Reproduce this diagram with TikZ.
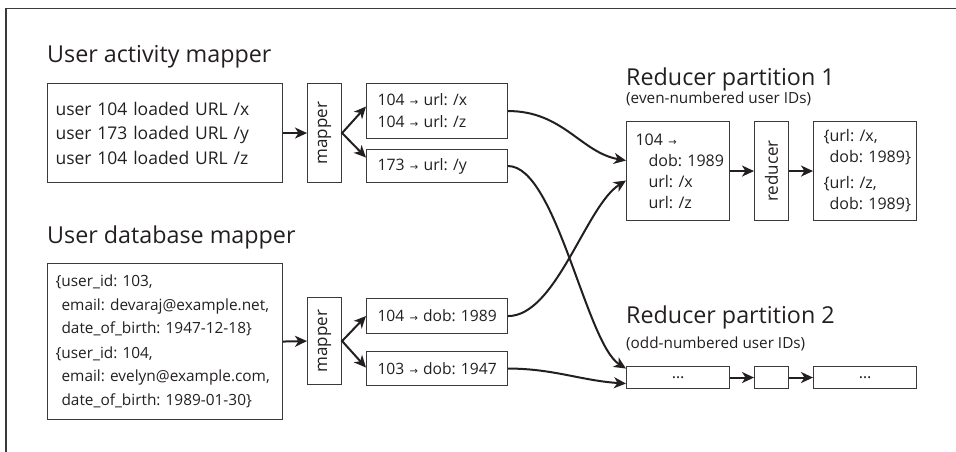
\documentclass[tikz,border=0pt]{standalone}
\usepackage{fontspec}
\setmainfont{Open Sans}
\newfontfamily\arrowfam{DejaVu Sans}
\usetikzlibrary{arrows.meta,calc}
\newcommand{\rarr}{{\arrowfam\fontsize{10}{10}\selectfont →}}
\newcommand{\oneline}[1]{\mbox{#1}}
\definecolor{ink}{HTML}{231F20}
\definecolor{boxc}{HTML}{3A3A3A}
\frenchspacing
\begin{document}
\begin{tikzpicture}[x=1pt,y=-1pt,
  title/.style={anchor=base west, inner sep=0pt, text=ink, font=\fontsize{23.3}{28}\selectfont},
  subtitle/.style={anchor=base west, inner sep=0pt, text=ink, font=\fontsize{15.3}{20}\selectfont},
  box/.style={draw=boxc, line width=1.1pt, anchor=north west, align=left, inner ysep=0pt, text=ink},
  plainbox/.style={draw=boxc, line width=1.1pt, anchor=north west, inner sep=0pt},
  vlabel/.style={rotate=90, inner sep=0pt, text=ink, font=\fontsize{17}{20}\selectfont},
  conn/.style={-{Stealth[length=12pt,width=11pt,inset=3.5pt]}, line width=2pt, draw=ink},
  fork/.style={{Stealth[length=12pt,width=11pt,inset=3.5pt]}-{Stealth[length=12pt,width=11pt,inset=3.5pt]}, line width=2pt, draw=ink},
  frameline/.style={draw=boxc, line width=1.5pt}
]
\useasboundingbox (0,0) rectangle (956,452);
\coordinate (fb) at (6,452);
\coordinate (fc) at (6,8.5);
\coordinate (fr) at (956,8.5);
\draw[frameline] (fb) -- (fc) -- (fr);

% titles
\node[title] (t1) at (47,63) {User activity mapper};
\node[title] (t2) at (47,243) {User database mapper};
\node[title] (t3) at (626,85) {Reducer partition 1};
\node[subtitle] (s3) at (626,103) {(even-numbered user IDs)};
\node[title] (t4) at (626,323) {Reducer partition 2};
\node[subtitle] (s4) at (626,348) {(odd-numbered user IDs)};

% user activity mapper
\node[box, inner xsep=8pt, text width=219pt, minimum height=99pt,
      font=\fontsize{17.5}{24.5}\selectfont] (in1) at (47,83)
  {\oneline{user 104 loaded URL /x}\\\oneline{user 173 loaded URL /y}\\\oneline{user 104 loaded URL /z}};
\node[plainbox, minimum width=34pt, minimum height=99pt] (m1) at (307,83) {};
\node[vlabel] (m1l) at (m1.center) {mapper};
\node[box, inner xsep=11pt, text width=119pt, minimum height=55pt,
      font=\fontsize{15.8}{22}\selectfont] (o1) at (366,83)
  {\oneline{104 \rarr{} url: /x}\\\oneline{104 \rarr{} url: /z}};
\node[box, inner xsep=11pt, text width=119pt, minimum height=33pt,
      font=\fontsize{15.8}{22}\selectfont] (o2) at (366,149)
  {\oneline{173 \rarr{} url: /y}};

% user database mapper
\node[box, inner xsep=8pt, text width=219pt, minimum height=156pt,
      font=\fontsize{15.4}{23.5}\selectfont] (db) at (47,263)
  {\oneline{\{user\_id: 103,}\\\oneline{\hspace*{6pt}email: devaraj@example.net,}\\\oneline{\hspace*{6pt}date\_of\_birth: 1947-12-18\}}\\[1pt]
   \oneline{\{user\_id: 104,}\\\oneline{\hspace*{6pt}email: evelyn@example.com,}\\\oneline{\hspace*{6pt}date\_of\_birth: 1989-01-30\}}};
\node[plainbox, minimum width=34pt, minimum height=87pt] (m2) at (307,297) {};
\node[vlabel] (m2l) at (m2.center) {mapper};
\node[box, inner xsep=11pt, text width=119pt, minimum height=35pt,
      font=\fontsize{15.6}{22}\selectfont] (o3) at (366,298)
  {\oneline{104 \rarr{} dob: 1989}};
\node[box, inner xsep=11pt, text width=119pt, minimum height=34pt,
      font=\fontsize{15.6}{22}\selectfont] (o4) at (366,351)
  {\oneline{103 \rarr{} dob: 1947}};

% reducer partition 1
\node[box, inner xsep=9pt, text width=85pt, minimum height=99pt,
      font=\fontsize{16}{21}\selectfont] (r1) at (626,121)
  {\oneline{104 \rarr}\\\oneline{\hspace*{13pt}dob: 1989}\\\oneline{\hspace*{13pt}url: /x}\\\oneline{\hspace*{13pt}url: /z}};
\node[plainbox, minimum width=34pt, minimum height=99pt] (red) at (754,121) {};
\node[vlabel] (redl) at (red.center) {reducer};
\node[box, inner xsep=10pt, text width=83pt, minimum height=99pt,
      font=\fontsize{16}{21}\selectfont] (ro) at (813,121)
  {\oneline{\{url: /x,}\\\oneline{\hspace*{6pt}dob: 1989\}}\\[5pt]\oneline{\{url: /z,}\\\oneline{\hspace*{6pt}dob: 1989\}}};

% reducer partition 2
\node[plainbox, minimum width=103pt, minimum height=22pt, font=\fontsize{16}{20}\selectfont, text=ink] (pa) at (626,366) {\ldots};
\node[plainbox, minimum width=34pt, minimum height=22pt] (pb) at (754,366) {};
\node[plainbox, minimum width=103pt, minimum height=22pt, font=\fontsize{16}{20}\selectfont, text=ink] (pc) at (813,366) {\ldots};

% connectors
\draw[conn] (in1.east) -- (m1.west);
\draw[fork] ([yshift=4.5pt]o1.west) -- (m1.east) -- ([yshift=8.5pt]o2.west);
\draw[conn] (db.east) -- (m2.west);
\draw[fork] (o3.west) -- (m2.east) -- ([yshift=1pt]o4.west);

\draw[conn] (o1.east) .. controls +(55,0) and +(-45,-8) .. ([yshift=10.5pt]r1.west);
\draw[conn] (o2.east) .. controls +(48,0) and +(-40,-25) .. ([yshift=9pt]pa.west);
\draw[conn] (o3.east) .. controls +(48,0) and +(-40,25) .. ([yshift=-9.5pt]r1.west);
\draw[conn] (o4.east) .. controls +(45,0) and +(-45,-3) .. ([yshift=-6pt]pa.west);

\draw[conn] (r1.east) -- (red.west);
\draw[conn] (red.east) -- (ro.west);
\draw[conn] (pa.east) -- (pb.west);
\draw[conn] (pb.east) -- (pc.west);
\end{tikzpicture}
\end{document}
